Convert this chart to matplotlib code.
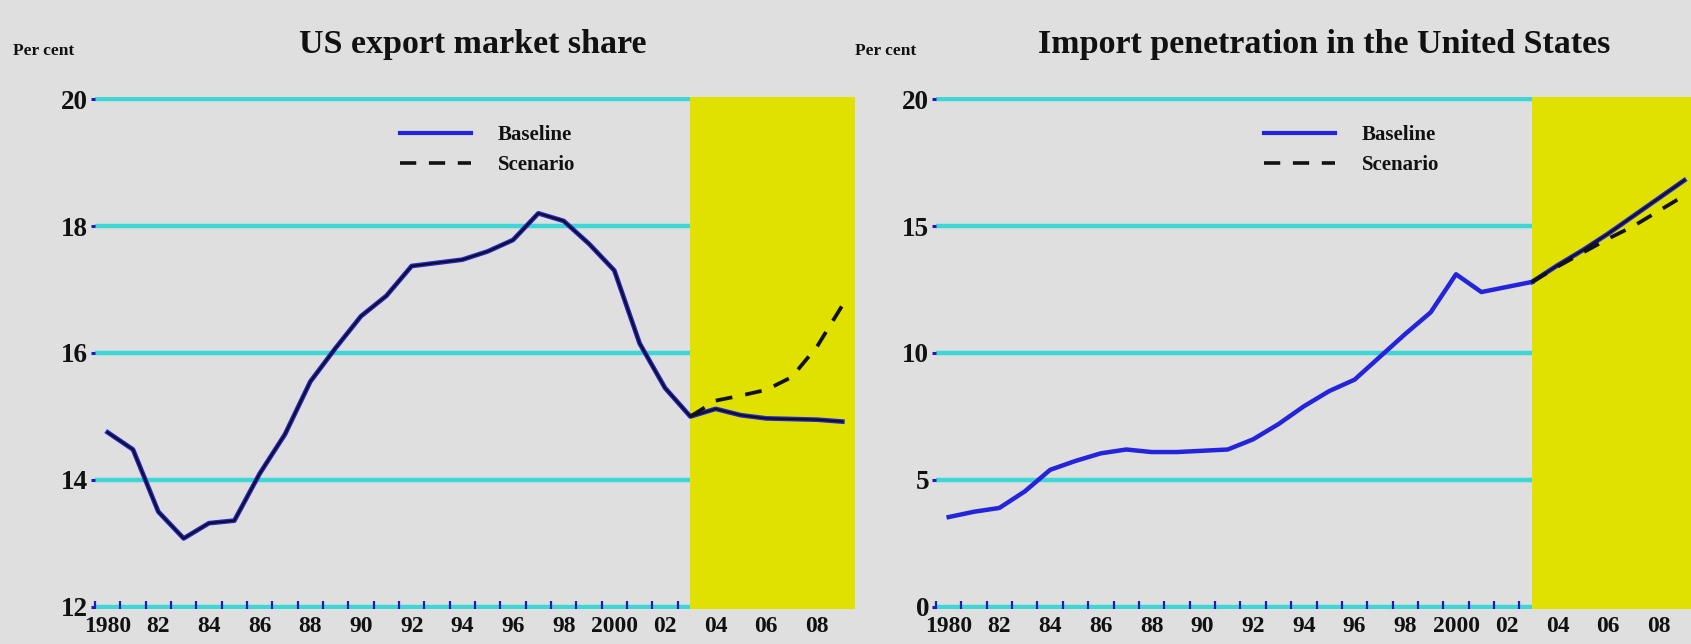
import numpy as np
import matplotlib.pyplot as plt
import matplotlib as mpl
from matplotlib.lines import Line2D

# colours
BG = "#dfdfdf"
YELLOW = "#e1e100"
CYAN = "#3fd6d6"
BLUE = "#2424dc"
TICK_BLUE = "#1c1cb8"
INK = "#111111"

mpl.rcParams.update({
    "font.family": ["Liberation Serif", "DejaVu Serif"],
    "font.weight": "bold",
    "text.color": INK,
    "figure.facecolor": BG,
    "axes.facecolor": BG,
    "savefig.facecolor": BG,
})

# ---------------------------------------------------------------------------
# Data (annual)
# ---------------------------------------------------------------------------
years = np.arange(1980, 2010)
proj_years = np.arange(2003, 2010)
PROJ_START = 2003

export_baseline = [14.75, 14.48, 13.50, 13.08, 13.32, 13.36, 14.10, 14.72, 15.55, 16.08,
                   16.58, 16.90, 17.37, 17.42, 17.47, 17.60, 17.78, 18.20, 18.08, 17.72,
                   17.30, 16.15, 15.45, 15.00, 15.12, 15.02, 14.97, 14.96, 14.95, 14.92]
export_scenario = [15.00, 15.25, 15.33, 15.42, 15.62, 16.10, 16.75]

import_baseline = [3.54, 3.75, 3.90, 4.55, 5.40, 5.75, 6.05, 6.20, 6.10, 6.10,
                   6.15, 6.20, 6.60, 7.20, 7.90, 8.50, 8.95, 9.85, 10.75, 11.60,
                   13.10, 12.40, 12.60, 12.80, 13.45, 14.05, 14.70, 15.40, 16.10, 16.80]
import_scenario = [12.80, 13.40, 13.95, 14.50, 15.00, 15.60, 16.20]

tick_years = np.arange(1980, 2004)
label_years = np.arange(1980, 2009, 2)
year_labels = ["1980", "82", "84", "86", "88", "90", "92", "94", "96", "98",
               "2000", "02", "04", "06", "08"]

export_yticks = [12, 14, 16, 18, 20]
import_yticks = [0, 5, 10, 15, 20]

W, H = 1691, 644
fig = plt.figure(figsize=(W / 100, H / 100), dpi=100)


def px(x0, y0, w, h):
    return [x0 / W, (H - y0 - h) / H, w / W, h / H]


ax1 = fig.add_axes(px(95, 97, 760, 512))
ax2 = fig.add_axes(px(936, 97, 761, 512))


def style(ax, yticks):
    lo, hi = yticks[0], yticks[-1]
    pad = (hi - lo) * 0.004
    ax.set_xlim(1980, 2010)
    ax.set_ylim(lo - pad, hi + pad)
    for s in ax.spines.values():
        s.set_visible(False)
    ax.set_axisbelow(True)
    ax.yaxis.grid(True, color=CYAN, linewidth=3.2)
    ax.xaxis.grid(False)
    ax.set_yticks(yticks)
    ax.tick_params(axis="y", direction="out", length=3, width=2.2, color=TICK_BLUE,
                   labelsize=19.5, pad=2, labelcolor=INK)
    ax.set_xticks(tick_years)
    ax.set_xticklabels([])
    ax.set_xticks(label_years + 0.5, minor=True)
    ax.set_xticklabels(year_labels, minor=True)
    ax.tick_params(axis="x", which="major", direction="in", length=6, width=1.6,
                   color=TICK_BLUE)
    ax.tick_params(axis="x", which="minor", length=0, labelsize=17, pad=5,
                   labelcolor=INK)
    ax.xaxis.set_zorder(1.5)
    ax.axvspan(PROJ_START + 0.5, 2010, color=YELLOW, zorder=1, linewidth=0)


style(ax1, export_yticks)
style(ax2, import_yticks)

x_all = years + 0.5
x_proj = proj_years + 0.5
n_hist = PROJ_START - 1980 + 1

# left panel: history drawn dark over blue, scenario dashed in projection
ax1.plot(x_all, export_baseline, color=BLUE, linewidth=3.4, zorder=3)
ax1.plot(x_all, export_baseline, color=INK, linewidth=1.5, zorder=4)
ax1.plot(x_proj, export_scenario, color=INK, linewidth=2.7, dashes=(4.5, 3.5), zorder=5)

# right panel: blue history, dark projection
ax2.plot(x_all[:n_hist], import_baseline[:n_hist], color=BLUE, linewidth=3.2, zorder=3)
ax2.plot(x_all[n_hist - 1:], import_baseline[n_hist - 1:], color=BLUE, linewidth=3.4, zorder=3)
ax2.plot(x_all[n_hist - 1:], import_baseline[n_hist - 1:], color=INK, linewidth=1.5, zorder=4)
ax2.plot(x_proj, import_scenario, color=INK, linewidth=2.7, dashes=(4.5, 3.5), zorder=5)

# titles and unit labels
fig.text(473 / W, (H - 53) / H, "US export market share", ha="center", va="baseline",
         fontsize=24.5, fontweight="bold")
fig.text(1324 / W, (H - 53) / H, "Import penetration in the United States", ha="center",
         va="baseline", fontsize=24.5, fontweight="bold")
fig.text(13 / W, (H - 55) / H, "Per cent", ha="left", va="baseline", fontsize=12.5)
fig.text(855 / W, (H - 55) / H, "Per cent", ha="left", va="baseline", fontsize=12.5)

handles = [Line2D([], [], color=BLUE, linewidth=3),
           Line2D([], [], color=INK, linewidth=2.6, dashes=(4.5, 3.5))]
for ax, lx in ((ax1, 400), (ax2, 1264)):
    ax.legend(handles, ["Baseline", "Scenario"], loc="upper left",
              bbox_to_anchor=(lx / W, (H - 125) / H), bbox_transform=fig.transFigure,
              frameon=False, fontsize=15, handlelength=3.4, handletextpad=1.3,
              labelspacing=0.5, borderpad=0, borderaxespad=0)

fig.savefig("out.png", dpi=100)
